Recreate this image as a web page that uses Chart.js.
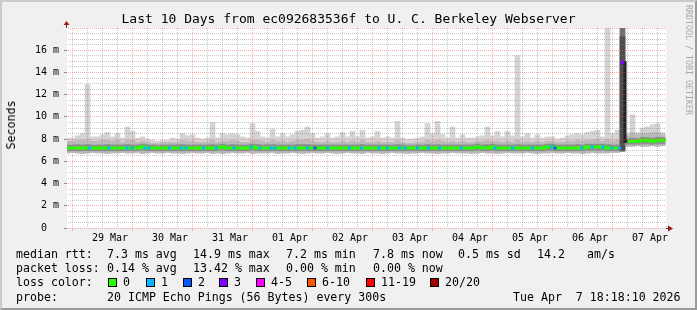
<!DOCTYPE html>
<html>
<head>
<meta charset="utf-8">
<script src="https://cdn.jsdelivr.net/npm/chart.js@4.4.1/dist/chart.umd.min.js"></script>
<style>
  html, body { margin: 0; padding: 0; background: #f0f0f0; }
  #wrap { position: relative; width: 697px; height: 310px; overflow: hidden; background: #f0f0f0; }
  #chart { position: absolute; left: 0; top: 0; }
  .txt { position: absolute; font-family: "DejaVu Sans Mono", monospace; font-size: 11.6px; line-height: 14px; color: #000; white-space: pre; }
  .box { position: absolute; top: 278px; width: 9px; height: 9px; box-sizing: border-box; border: 1px solid #000; }
  #frame { position: absolute; left: 0; top: 0; width: 697px; height: 310px; box-sizing: border-box;
           border: 2px solid; border-color: #cbcbcb #999 #999 #cbcbcb; pointer-events: none; }
  #credit { position: absolute; left: 684px; top: 5px; font-family: "DejaVu Sans Mono", monospace; font-size: 8.3px;
            color: #a8a8a8; writing-mode: vertical-rl; white-space: pre; }
  #ytitle { position: absolute; left: 10.5px; top: 125px; transform: translate(-50%, -50%) rotate(-90deg); }
</style>
</head>
<body>
<div id="wrap">
  <canvas id="chart" width="697" height="310"></canvas>

  <div class="txt" style="left:0;width:697px;text-align:center;top:11px;font-size:13px;line-height:16px">Last 10 Days from ec092683536f to U. C. Berkeley Webserver</div>
  <div class="txt" id="ytitle">Seconds</div>
  <div id="credit">RRDTOOL / TOBI OETIKER</div>

  <div class="txt" style="left:16px;top:247px">median rtt:</div>
  <div class="txt" style="left:107px;top:247px">7.3 ms avg</div>
  <div class="txt" style="left:193px;top:247px">14.9 ms max</div>
  <div class="txt" style="left:286px;top:247px">7.2 ms min</div>
  <div class="txt" style="left:373px;top:247px">7.8 ms now</div>
  <div class="txt" style="left:458px;top:247px">0.5 ms sd</div>
  <div class="txt" style="left:537px;top:247px">14.2</div>
  <div class="txt" style="left:587px;top:247px">am/s</div>

  <div class="txt" style="left:16px;top:261px">packet loss:</div>
  <div class="txt" style="left:107px;top:261px">0.14 % avg</div>
  <div class="txt" style="left:193px;top:261px">13.42 % max</div>
  <div class="txt" style="left:286px;top:261px">0.00 % min</div>
  <div class="txt" style="left:373px;top:261px">0.00 % now</div>

  <div class="txt" style="left:16px;top:275px">loss color:</div>
  <div id="lossLegend"></div>

  <div class="txt" style="left:16px;top:290px">probe:</div>
  <div class="txt" style="left:107px;top:290px">20 ICMP Echo Pings (56 Bytes) every 300s</div>
  <div class="txt" style="left:513px;top:290px">Tue Apr  7 18:18:10 2026</div>

  <div id="frame"></div>
</div>
<script>
// time axis: hours since 29 Mar 00:00, one smoke column every 2 hours
const firstHour = -5;
const colStep = 2;
const dayLabels = ["29 Mar", "30 Mar", "31 Mar", "01 Apr", "02 Apr", "03 Apr", "04 Apr", "05 Apr", "06 Apr", "07 Apr"];
const yLabelValues = [0, 2, 4, 6, 8, 10, 12, 14, 16];

// top of the light smoke (max ping) in ms
const smokeMax = [
  8.1, 8.1, 8.3, 8.5, 12.9, 8.2, 8.2, 8.4, 8.6, 8.2,
  8.5, 8.1, 9.1, 8.7, 8.1, 8.2, 8.0, 7.9, 7.8, 7.9,
  7.9, 8.1, 8.0, 8.5, 8.3, 8.4, 8.1, 8.0, 8.1, 9.5,
  8.1, 8.5, 8.4, 8.5, 8.4, 8.2, 8.1, 9.4, 8.7, 8.2,
  8.1, 8.9, 8.2, 8.5, 8.2, 8.4, 8.7, 8.8, 9.1, 8.5,
  8.1, 8.2, 8.5, 8.1, 8.2, 8.6, 8.2, 8.7, 8.2, 8.8,
  8.1, 8.2, 8.7, 8.1, 8.2, 8.1, 9.6, 8.1, 8.0, 8.0,
  8.1, 8.2, 9.4, 8.5, 9.6, 8.4, 8.1, 9.1, 8.1, 8.4,
  8.1, 8.1, 8.2, 8.3, 9.1, 8.3, 8.7, 8.2, 8.7, 8.3,
  15.5, 8.2, 8.5, 8.1, 8.4, 8.1, 8.2, 8.2, 8.0, 8.1,
  8.3, 8.4, 8.5, 8.4, 8.6, 8.7, 8.8, 8.2, 18.0, 8.5,
  8.8, 18.0, 8.5, 10.2, 8.6, 9.0, 9.1, 9.3, 9.4, 8.6
];
// top of the medium smoke band
const smokeQ3 = [
  7.8, 7.8, 7.9, 7.9, 8.0, 7.8, 7.8, 7.9, 7.9, 7.8,
  7.9, 7.7, 7.9, 7.9, 7.7, 7.8, 7.7, 7.6, 7.6, 7.7,
  7.7, 7.7, 7.7, 7.9, 7.8, 7.8, 7.7, 7.7, 7.7, 7.9,
  7.7, 7.8, 7.8, 7.9, 7.8, 7.7, 7.7, 7.9, 7.9, 7.8,
  7.7, 7.9, 7.8, 7.8, 7.7, 7.8, 7.9, 7.9, 8.0, 7.8,
  7.7, 7.7, 7.8, 7.7, 7.7, 7.8, 7.7, 7.8, 7.7, 7.9,
  7.7, 7.7, 7.8, 7.7, 7.7, 7.7, 7.9, 7.7, 7.6, 7.6,
  7.7, 7.7, 7.9, 7.8, 7.9, 7.8, 7.7, 7.8, 7.7, 7.8,
  7.7, 7.7, 7.8, 7.8, 7.9, 7.8, 7.8, 7.7, 7.8, 7.7,
  7.9, 7.7, 7.8, 7.7, 7.8, 7.7, 7.8, 7.8, 7.7, 7.7,
  7.8, 7.8, 7.9, 7.8, 7.9, 7.9, 8.0, 7.8, 8.0, 7.8,
  7.9, 18.0, 8.3, 8.6, 8.4, 8.5, 8.5, 8.6, 8.6, 8.4
];
// bottom of the smoke (min ping)
const smokeMin = [
  6.75, 6.8, 6.75, 6.7, 6.75, 6.8, 6.75, 6.75, 6.7, 6.75,
  6.75, 6.8, 6.75, 6.75, 6.8, 6.7, 6.75, 6.8, 6.75, 6.75,
  6.8, 6.75, 6.75, 6.7, 6.75, 6.8, 6.75, 6.75, 6.8, 6.7,
  6.75, 6.7, 6.75, 6.8, 6.75, 6.75, 6.8, 6.7, 6.75, 6.75,
  6.75, 6.8, 6.7, 6.75, 6.75, 6.8, 6.75, 6.7, 6.75, 6.8,
  6.75, 6.75, 6.8, 6.75, 6.7, 6.75, 6.8, 6.75, 6.75, 6.7,
  6.8, 6.75, 6.75, 6.7, 6.75, 6.8, 6.75, 6.75, 6.7, 6.75,
  6.75, 6.8, 6.75, 6.75, 6.7, 6.75, 6.75, 6.8, 6.75, 6.75,
  6.75, 6.7, 6.75, 6.8, 6.75, 6.75, 6.7, 6.75, 6.8, 6.75,
  6.75, 6.75, 6.8, 6.75, 6.7, 6.75, 6.75, 6.8, 6.75, 6.75,
  6.8, 6.75, 6.75, 6.7, 6.75, 6.8, 6.75, 6.75, 6.75, 6.8,
  6.8, 6.9, 7.35, 7.35, 7.4, 7.35, 7.35, 7.4, 7.35, 7.4
];
// dense (dark) part of the smoke around the median
const smokeLo = [
  6.95, 6.95, 6.95, 6.95, 6.95, 6.95, 6.95, 6.95, 6.95, 6.95,
  6.95, 6.95, 6.95, 6.95, 6.95, 7.0, 6.95, 6.95, 6.95, 6.95,
  6.95, 6.95, 6.95, 6.95, 6.95, 6.95, 6.95, 6.95, 6.95, 6.95,
  6.95, 7.0, 6.95, 6.95, 6.95, 6.95, 6.95, 7.0, 6.95, 6.95,
  6.95, 6.95, 6.95, 6.95, 6.95, 6.95, 6.95, 6.95, 6.95, 6.95,
  6.95, 6.95, 6.95, 6.95, 6.95, 6.95, 6.95, 6.95, 6.95, 6.95,
  6.95, 6.95, 6.95, 6.95, 6.95, 6.95, 6.95, 6.95, 6.95, 6.95,
  6.95, 6.95, 6.95, 6.95, 6.95, 6.95, 6.95, 6.95, 6.95, 6.95,
  6.95, 6.95, 7.0, 6.95, 6.95, 7.0, 6.95, 6.95, 6.95, 6.95,
  6.95, 6.95, 6.95, 6.95, 6.95, 6.95, 7.0, 7.0, 6.95, 6.95,
  6.95, 6.95, 6.95, 6.95, 7.0, 7.0, 7.0, 7.0, 6.95, 6.95,
  6.95, 7.0, 7.55, 7.55, 7.55, 7.6, 7.6, 7.55, 7.6, 7.6
];
const smokeHi = [
  7.45, 7.45, 7.5, 7.45, 7.5, 7.45, 7.45, 7.45, 7.5, 7.45,
  7.45, 7.45, 7.5, 7.45, 7.45, 7.55, 7.45, 7.45, 7.4, 7.45,
  7.45, 7.45, 7.45, 7.5, 7.45, 7.45, 7.45, 7.45, 7.45, 7.5,
  7.45, 7.55, 7.45, 7.5, 7.45, 7.45, 7.45, 7.55, 7.5, 7.45,
  7.45, 7.5, 7.45, 7.45, 7.45, 7.45, 7.5, 7.5, 7.5, 7.45,
  7.45, 7.45, 7.45, 7.45, 7.45, 7.45, 7.45, 7.45, 7.45, 7.5,
  7.45, 7.45, 7.45, 7.45, 7.45, 7.45, 7.5, 7.45, 7.4, 7.4,
  7.45, 7.45, 7.5, 7.45, 7.5, 7.45, 7.45, 7.45, 7.45, 7.45,
  7.45, 7.45, 7.55, 7.45, 7.5, 7.55, 7.45, 7.45, 7.45, 7.45,
  7.5, 7.45, 7.45, 7.45, 7.45, 7.45, 7.55, 7.55, 7.45, 7.45,
  7.45, 7.45, 7.5, 7.45, 7.55, 7.55, 7.55, 7.55, 7.5, 7.45,
  7.45, 17.2, 8.05, 8.1, 8.05, 8.15, 8.15, 8.1, 8.15, 8.15
];
// median rtt per column (ms)
const median = [
  7.2, 7.2, 7.2, 7.2, 7.2, 7.2, 7.2, 7.2, 7.2, 7.2,
  7.2, 7.2, 7.2, 7.2, 7.2, 7.3, 7.2, 7.2, 7.2, 7.2,
  7.2, 7.2, 7.2, 7.2, 7.2, 7.2, 7.2, 7.2, 7.2, 7.2,
  7.2, 7.3, 7.2, 7.2, 7.2, 7.2, 7.2, 7.3, 7.2, 7.2,
  7.2, 7.2, 7.2, 7.2, 7.2, 7.2, 7.2, 7.2, 7.2, 7.2,
  7.2, 7.2, 7.2, 7.2, 7.2, 7.2, 7.2, 7.2, 7.2, 7.2,
  7.2, 7.2, 7.2, 7.2, 7.2, 7.2, 7.2, 7.2, 7.2, 7.2,
  7.2, 7.2, 7.2, 7.2, 7.2, 7.2, 7.2, 7.2, 7.2, 7.2,
  7.2, 7.2, 7.3, 7.2, 7.2, 7.3, 7.2, 7.2, 7.2, 7.2,
  7.2, 7.2, 7.2, 7.2, 7.2, 7.2, 7.3, 7.3, 7.2, 7.2,
  7.2, 7.2, 7.2, 7.2, 7.3, 7.3, 7.3, 7.3, 7.2, 7.2,
  7.2, 14.9, 7.8, 7.8, 7.8, 7.9, 7.9, 7.8, 7.9, 7.9
];
// moments with packet loss (hour) and how many of the 20 pings were lost
const lossHours = [3.8, 11.6, 18.8, 20.8, 26, 27.6, 35.8, 40.4, 42.4, 49.4, 54.6, 61.6, 68.4, 72,
  76.4, 78, 83.8, 86, 91, 94, 99, 107.8, 112.6, 119.6, 123, 127.8, 130, 135, 139.4, 143.8,
  152.4, 166, 173, 181, 188.4, 190, 200.8, 204.8, 209.2, 212.8, 215.8, 217];
const lossCounts = [1, 1, 1, 1, 1, 1, 1, 1, 1, 1, 1, 1, 1, 1,
  1, 1, 1, 1, 1, 2, 1, 1, 1, 1, 1, 1, 1, 1, 1, 1,
  1, 1, 1, 1, 1, 2, 1, 1, 1, 1, 1, 3];

const lossNames = ["0", "1", "2", "3", "4-5", "6-10", "11-19", "20/20"];
const lossColors = ["#26ff00", "#00b8ff", "#0059ff", "#7e00ff", "#ff00ff", "#ff5500", "#ff0000", "#a10000"];
const lossBucket = n => n <= 3 ? n : n <= 5 ? 4 : n <= 10 ? 5 : n <= 19 ? 6 : 7;

// loss colour legend row
const legendBoxX = [108, 146, 183, 219, 256, 307, 366, 430];
const legendEl = document.getElementById("lossLegend");
lossNames.forEach((name, i) => {
  legendEl.insertAdjacentHTML("beforeend",
    `<div class="box" style="left:${legendBoxX[i]}px;background:${lossColors[i]}"></div>` +
    `<div class="txt" style="left:${legendBoxX[i] + 15}px;top:275px">${name}</div>`);
});

const colHours = smokeMax.map((_, i) => firstHour + colStep * i);
const bars = (lo, hi) => colHours.map((h, i) => ({ x: h, y: [lo[i], hi[i]] }));
const medianIndex = h => Math.round((h - firstHour) / colStep);

const xGrid = [];
for (let h = 0; h <= 234; h += 6) xGrid.push(h);
const yGrid = [];
for (let v = 0; v <= 18; v += 0.5) yGrid.push(v);

const gridGray = "rgba(128,128,128,0.45)";
const gridRed = "rgba(255,80,80,0.45)";
const monoFont = { family: "DejaVu Sans Mono", size: 10 };

const rrdFrame = {
  id: "rrdFrame",
  beforeDraw(chart) {
    const { ctx, chartArea: a } = chart;
    ctx.save();
    ctx.fillStyle = "#ffffff";
    ctx.fillRect(a.left, a.top, a.right - a.left, a.bottom - a.top);
    ctx.restore();
  },
  afterDraw(chart) {
    const { ctx, chartArea: a } = chart;
    ctx.save();
    ctx.strokeStyle = "#404040";
    ctx.lineWidth = 1;
    ctx.beginPath();
    ctx.moveTo(a.left - 0.5, a.top);
    ctx.lineTo(a.left - 0.5, a.top - 4);
    ctx.moveTo(a.right, a.bottom + 0.5);
    ctx.lineTo(a.right + 3, a.bottom + 0.5);
    ctx.stroke();
    ctx.fillStyle = "#9a1a1a";
    ctx.beginPath();
    ctx.moveTo(a.left - 3.5, a.top - 3);
    ctx.lineTo(a.left + 2.5, a.top - 3);
    ctx.lineTo(a.left - 0.5, a.top - 7);
    ctx.closePath();
    ctx.fill();
    ctx.beginPath();
    ctx.moveTo(a.right + 2, a.bottom - 2.5);
    ctx.lineTo(a.right + 2, a.bottom + 3.5);
    ctx.lineTo(a.right + 7, a.bottom + 0.5);
    ctx.closePath();
    ctx.fill();
    ctx.restore();
  }
};

const barBase = { type: "bar", grouped: false, barThickness: 5, borderWidth: 0, borderSkipped: false };

// rising edge into the spike is hidden by the dark smoke; the falling edge is drawn dark
const spikeSegment = c => c.p1.parsed.y > 10 ? "rgba(0,0,0,0)" : c.p0.parsed.y > 10 ? "#222222" : undefined;

new Chart(document.getElementById("chart"), {
  type: "bar",
  data: {
    datasets: [
      { ...barBase, label: "smoke", order: 5, data: bars(smokeMin, smokeMax), backgroundColor: "#d4d4d4" },
      { ...barBase, label: "smoke mid", order: 4, data: bars(smokeMin, smokeQ3),
        backgroundColor: c => c.raw && c.raw.y[1] > 12 ? "#707070" : "#bababa" },
      { ...barBase, label: "smoke dense", order: 3, data: bars(smokeLo, smokeHi),
        backgroundColor: c => c.raw && c.raw.y[1] > 12 ? "#4d4d4d" : "#8e8e8e" },
      {
        type: "line", label: "median rtt", order: 2,
        data: [{ x: -5.2, y: median[0] }, ...colHours.map((h, i) => ({ x: h, y: median[i] })),
               { x: 234.4, y: median[median.length - 1] }],
        stepped: "middle", borderColor: lossColors[0], borderWidth: 3, pointRadius: 0,
        segment: { borderColor: spikeSegment }
      },
      {
        type: "line", label: "loss", order: 1, showLine: false,
        data: lossHours.map((h, i) => ({ x: h, y: median[medianIndex(h)], n: lossCounts[i] })),
        pointStyle: "rect", pointBorderWidth: 0,
        pointRadius: c => c.raw && c.raw.n >= 3 ? 2.6 : 2.1,
        pointBackgroundColor: c => lossColors[lossBucket(c.raw ? c.raw.n : 0)]
      }
    ]
  },
  options: {
    responsive: false,
    animation: false,
    layout: { padding: { left: 0, top: 28, right: 31, bottom: 0 } },
    plugins: { legend: { display: false }, tooltip: { enabled: false } },
    scales: {
      x: {
        type: "linear", min: -5.2, max: 234.4, offset: false,
        afterBuildTicks: s => { s.ticks = xGrid.map(v => ({ value: v })); },
        afterFit: s => { s.height = 82; },
        grid: {
          z: 1, lineWidth: 1, tickLength: 3,
          color: c => c.tick && c.tick.value % 24 === 0 ? gridRed : gridGray,
          tickColor: c => c.tick && c.tick.value % 24 === 0 ? gridRed : "rgba(0,0,0,0)"
        },
        border: { color: "#404040", width: 1, dash: [1, 1] },
        ticks: {
          autoSkip: false, maxRotation: 0, padding: 1, color: "#000", font: monoFont,
          callback: v => v % 24 === 12 ? dayLabels[(v - 12) / 24] : ""
        }
      },
      y: {
        min: 0, max: 18,
        afterBuildTicks: s => { s.ticks = yGrid.map(v => ({ value: v })); },
        afterFit: s => { s.width = 67; },
        grid: {
          z: 1, lineWidth: 1, tickLength: 3,
          color: c => c.tick && c.tick.value % 2 === 0 ? gridRed : gridGray,
          tickColor: c => c.tick && yLabelValues.includes(c.tick.value) ? "#8c8c8c" : "rgba(0,0,0,0)"
        },
        border: { color: "#404040", width: 1, dash: [1, 1] },
        ticks: {
          autoSkip: false, padding: 5, color: "#000", font: monoFont,
          callback: v => yLabelValues.includes(v) ? (v === 0 ? "0  " : v + " m") : ""
        }
      }
    }
  },
  plugins: [rrdFrame]
});
</script>
</body>
</html>
